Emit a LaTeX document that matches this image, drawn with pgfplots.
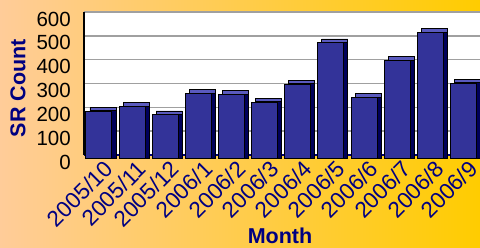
\documentclass[border=0pt]{standalone}
\usepackage{pgfplots}
\pgfplotsset{compat=1.18}
\usepackage{fontspec}
\setmainfont{Liberation Sans}
\definecolor{bgL}{RGB}{255,204,153}
\definecolor{bgR}{RGB}{255,204,0}
\definecolor{barF}{RGB}{51,51,153}
\definecolor{barT}{RGB}{90,90,190}
\definecolor{barS}{RGB}{0,0,90}
\definecolor{navyT}{RGB}{0,0,128}
\definecolor{gridG}{RGB}{160,160,160}
\begin{document}
\begin{tikzpicture}
\shade[left color=bgL, right color=bgR] (0,0) rectangle (480pt,248pt);
\begin{axis}[
  at={(84pt,93pt)}, anchor=south west,
  scale only axis, width=396pt, height=143pt,
  xmin=-0.45, xmax=11.5, ymin=0, ymax=600,
  clip=false,
  ybar, bar width=26pt,
  axis background/.style={fill=white},
  axis x line*=bottom, axis y line*=left,
  x axis line style={draw=navyT, line width=1.5pt, -},
  y axis line style={draw=black, line width=1.5pt, -},
  xtick={0,...,11},
  xticklabels={2005/10,2005/11,2005/12,2006/1,2006/2,2006/3,2006/4,2006/5,2006/6,2006/7,2006/8,2006/9},
  ytick={0,100,...,600},
  major tick length=0pt,
  ymajorgrids, grid style={draw=gridG, line width=1.5pt},
  xticklabel style={font=\fontsize{22.5}{26}\selectfont, text=navyT, xshift=10pt, yshift=-10pt, rotate=45, anchor=east, inner sep=0pt},
  yticklabel style={font=\fontsize{20.5}{24}\selectfont, text=black, anchor=east, inner sep=0pt, xshift=-13pt, yshift=-7pt},
  /pgf/number format/assume math mode=true,
  xlabel={Month}, ylabel={SR Count},
  xlabel style={font=\fontsize{21.5}{25}\bfseries\selectfont, text=navyT, at={(rel axis cs:0.495,-0.622)}, anchor=base},
  ylabel style={font=\fontsize{21.5}{25}\bfseries\selectfont, text=navyT, at={(rel axis cs:-0.167,0.468)}, anchor=center, rotate=0},
]
% back (top face colour)
\addplot[fill=barT, draw=black, line width=0.8pt, bar shift=4pt] coordinates {
(0,200) (1,219) (2,185) (3,274) (4,269) (5,238) (6,313) (7,487) (8,257) (9,413) (10,530) (11,318)};
% side
\addplot[fill=barS, draw=black, line width=0.8pt, bar shift=4pt, yshift=-3.5pt] coordinates {
(0,200) (1,219) (2,185) (3,274) (4,269) (5,238) (6,313) (7,487) (8,257) (9,413) (10,530) (11,318)};
% front
\addplot[fill=barF, draw=black, line width=1pt, bar shift=0pt, yshift=-4pt] coordinates {
(0,200) (1,219) (2,185) (3,274) (4,269) (5,238) (6,313) (7,487) (8,257) (9,413) (10,530) (11,318)};
\end{axis}
\pgfresetboundingbox
\path (0,0) rectangle (480pt,248pt);
\end{tikzpicture}
\end{document}
